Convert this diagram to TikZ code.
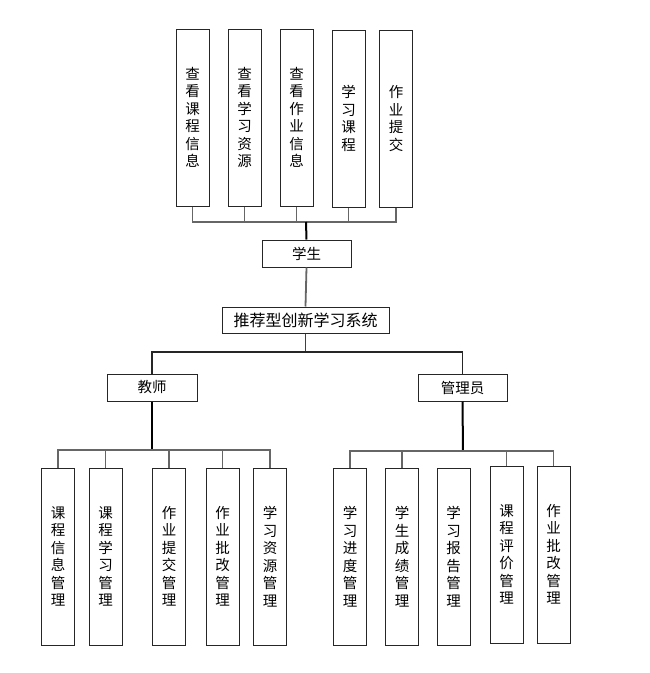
\documentclass[tikz,border=0pt]{standalone}
\usepackage{fontspec}
\setmainfont{Noto Sans CJK SC}
\begin{document}
\begin{tikzpicture}[x=1pt,y=-1pt,
  vbox/.style={draw=black!85,line width=1pt,minimum width=33pt,minimum height=177pt,inner sep=0pt,align=center,font=\fontsize{14.5}{17.5}\selectfont},
  hbox/.style={draw=black!85,line width=1pt,minimum width=89pt,minimum height=27pt,inner sep=0pt,font=\fontsize{14.5}{17}\selectfont},
  thin/.style={draw=black!60,line width=1.2pt},
  trunk/.style={draw=black,line width=2pt}]
\useasboundingbox (0,0) rectangle (649,673);
% top
\node[vbox] (t1) at (192.5,117.5) {查\\看\\课\\程\\信\\息};
\node[vbox] (t2) at (244.5,117.5) {查\\看\\学\\习\\资\\源};
\node[vbox] (t3) at (296.5,117.5) {查\\看\\作\\业\\信\\息};
\node[vbox] (t4) at (348.5,118.5) {学\\习\\课\\程};
\node[vbox] (t5) at (396,118.5) {作\\业\\提\\交};
\node[hbox] (stu) at (306.5,253.5) {学生};
\node[hbox,minimum width=167pt,minimum height=26pt,font=\fontsize{16}{18}\selectfont] (sys) at (305.5,320) {推荐型创新学习系统};
\node[hbox,minimum width=90pt] (tea) at (152,387.5) {教师};
\node[hbox] (adm) at (462.5,387.5) {管理员};
% teacher children
\node[vbox] (c1) at (58,556.5) {课\\程\\信\\息\\管\\理};
\node[vbox] (c2) at (105.5,556.5) {课\\程\\学\\习\\管\\理};
\node[vbox] (c3) at (169,556.5) {作\\业\\提\\交\\管\\理};
\node[vbox] (c4) at (222.5,556.5) {作\\业\\批\\改\\管\\理};
\node[vbox] (c5) at (270,556.5) {学\\习\\资\\源\\管\\理};
% admin children
\node[vbox] (d1) at (350,556.5) {学\\习\\进\\度\\管\\理};
\node[vbox] (d2) at (402,556.5) {学\\生\\成\\绩\\管\\理};
\node[vbox] (d3) at (453.5,556.5) {学\\习\\报\\告\\管\\理};
\node[vbox] (d4) at (506.5,554.5) {课\\程\\评\\价\\管\\理};
\node[vbox] (d5) at (553.5,554.5) {作\\业\\批\\改\\管\\理};
% connectors
\coordinate (tb) at (306,222);
\foreach \n in {t1,t2,t3,t4,t5} \draw[thin] (\n.south) |- (tb);
\draw[trunk] (tb) -- (stu.north);
\draw[thin,line width=1.8pt] (stu.south) -- (sys.north);
\coordinate (sb) at (305.5,352);
\draw[trunk,line width=1.8pt,draw=black!75] (sys.south) -- (sb);
\draw[thin,draw=black!85] (sb) -| (tea.north);
\draw[thin,draw=black!85] (sb) -| (adm.north);
\coordinate (cb) at (152,450);
\draw[trunk] (tea.south) -- (cb);
\foreach \n in {c1,c2,c3,c4,c5} \draw[thin] (cb) -| (\n.north);
\coordinate (ab) at (463,451);
\draw[trunk] (adm.south) -- (ab);
\foreach \n in {d1,d2,d4,d5} \draw[thin] (ab) -| (\n.north);
\end{tikzpicture}
\end{document}
